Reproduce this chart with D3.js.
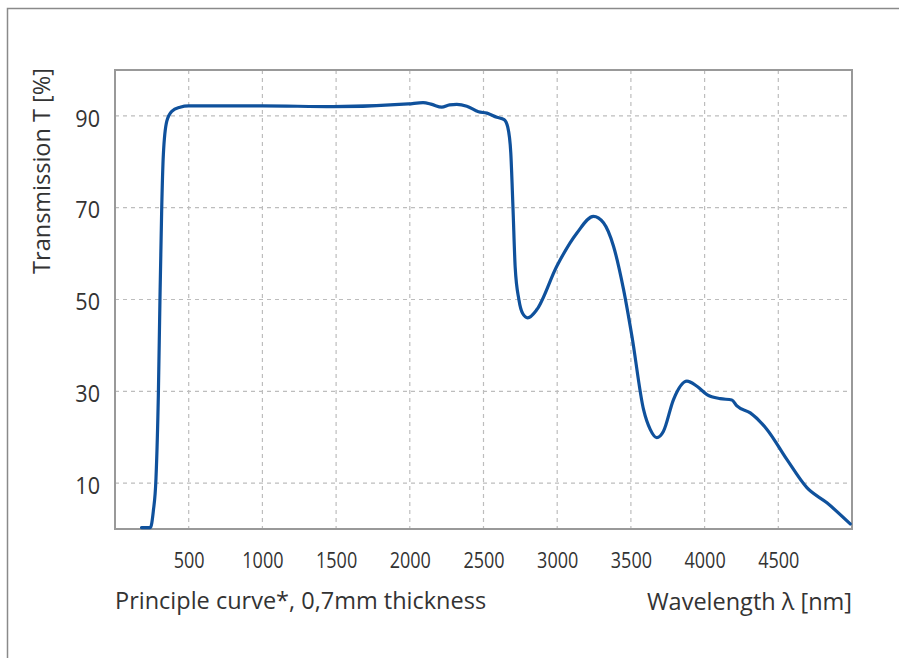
<!DOCTYPE html>
<html>
<head>
<meta charset="utf-8">
<script src="https://cdn.jsdelivr.net/npm/d3@7"></script>
<style>
  body { margin: 0; background: #fff; }
  svg { display: block; }
  text { font-family: "Open Sans", "Noto Sans", sans-serif; fill: #333; }
</style>
</head>
<body>
<svg id="chart" width="899" height="658"></svg>
<script>
// wavelength (nm) and transmission (%)
var wavelength = [180, 240, 260, 278, 294, 305, 317, 328, 351, 385, 441, 500, 1000, 1480, 1990, 2090, 2150, 2217, 2270, 2319, 2387, 2466, 2523, 2591, 2640, 2665, 2685, 2700, 2715, 2740, 2765, 2800, 2862, 2998, 3134, 3246, 3314, 3382, 3450, 3507, 3586, 3631, 3676, 3721, 3789, 3880, 3948, 4016, 4106, 4185, 4219, 4310, 4423, 4559, 4694, 4830, 4988];
var transmission = [0.3, 0.3, 3.9, 11, 29, 50, 70, 81.5, 88.8, 91, 91.9, 92.2, 92.2, 92.0, 92.6, 92.9, 92.5, 91.9, 92.4, 92.5, 92.1, 90.9, 90.6, 89.7, 89.2, 87.5, 82, 70, 57, 50, 47, 46, 47.8, 57.3, 64.5, 68.1, 66.7, 61.6, 52.2, 42, 26, 21.7, 19.9, 21.3, 28.2, 32.2, 31.1, 29.3, 28.4, 28.1, 26.8, 25.3, 21.7, 15.1, 9.0, 5.7, 1.1];

var xTicks = [500, 1000, 1500, 2000, 2500, 3000, 3500, 4000, 4500];
var yTicks = [10, 30, 50, 70, 90];

var svg = d3.select('#chart');

// outer frame
svg.append('path')
  .attr('d', 'M7.5,658 L7.5,8.5 L899,8.5')
  .attr('fill', 'none')
  .attr('stroke', '#8a8a8a')
  .attr('stroke-width', 1.5);

var plotLeft = 115, plotTop = 70, plotRight = 852, plotBottom = 529;

var x = d3.scaleLinear().domain([0, 5000]).range([plotLeft, plotRight]);
var y = d3.scaleLinear().domain([0, 100]).range([plotBottom, plotTop]);

// grid
svg.append('g').selectAll('line')
  .data(xTicks)
  .enter()
  .append('line')
  .attr('x1', function (d) { return x(d); })
  .attr('x2', function (d) { return x(d); })
  .attr('y1', plotTop)
  .attr('y2', plotBottom)
  .attr('stroke', '#bdbdbd')
  .attr('stroke-width', 1.2)
  .attr('stroke-dasharray', '4,4');

svg.append('g').selectAll('line')
  .data(yTicks)
  .enter()
  .append('line')
  .attr('x1', plotLeft)
  .attr('x2', plotRight)
  .attr('y1', function (d) { return y(d); })
  .attr('y2', function (d) { return y(d); })
  .attr('stroke', '#bdbdbd')
  .attr('stroke-width', 1.2)
  .attr('stroke-dasharray', '4,4');

// axes (labels only), condensed digits like the original
var xAxis = d3.axisBottom(x).tickValues(xTicks).tickFormat(d3.format('d')).tickSize(0).tickPadding(0);
var gx = svg.append('g')
  .attr('transform', 'translate(0,' + 560 + ')')
  .call(xAxis);
gx.select('.domain').remove();
gx.selectAll('text')
  .attr('dy', '0.36em')
  .attr('transform', 'scale(0.82,1)')
  .style('font-family', '"Open Sans", "Noto Sans", sans-serif')
  .style('font-size', '22px')
  .style('fill', '#333');

var yAxis = d3.axisLeft(y).tickValues(yTicks).tickFormat(d3.format('d')).tickSize(0).tickPadding(0);
var gy = svg.append('g')
  .attr('transform', 'translate(' + 100 + ',1.5)')
  .call(yAxis);
gy.select('.domain').remove();
gy.selectAll('text')
  .attr('dy', '0.36em')
  .attr('transform', 'scale(0.9,1)')
  .style('font-family', '"Open Sans", "Noto Sans", sans-serif')
  .style('font-size', '24px')
  .style('fill', '#333');

// plot frame
svg.append('rect')
  .attr('x', plotLeft)
  .attr('y', plotTop)
  .attr('width', plotRight - plotLeft)
  .attr('height', plotBottom - plotTop)
  .attr('fill', 'none')
  .attr('stroke', '#999')
  .attr('stroke-width', 2);

// curve
var points = d3.zip(wavelength, transmission);
var line = d3.line()
  .x(function (d) { return x(d[0]); })
  .y(function (d) { return y(d[1]); })
  .curve(d3.curveMonotoneX);

svg.append('path')
  .datum(points)
  .attr('d', line)
  .attr('fill', 'none')
  .attr('stroke', '#0f519c')
  .attr('stroke-width', 3.2)
  .attr('stroke-linejoin', 'round')
  .attr('stroke-linecap', 'round');

// titles
svg.append('text')
  .attr('transform', 'translate(41,' + 171 + ') rotate(-90)')
  .attr('text-anchor', 'middle')
  .attr('dominant-baseline', 'central')
  .style('font-size', '23.5px')
  .text('Transmission T [%]');

svg.append('text')
  .attr('x', 115)
  .attr('y', 609)
  .style('font-size', '23.5px')
  .text('Principle curve*, 0,7mm thickness');

svg.append('text')
  .attr('x', 852)
  .attr('y', 610)
  .attr('text-anchor', 'end')
  .style('font-size', '23.5px')
  .text('Wavelength λ [nm]');
</script>
</body>
</html>
